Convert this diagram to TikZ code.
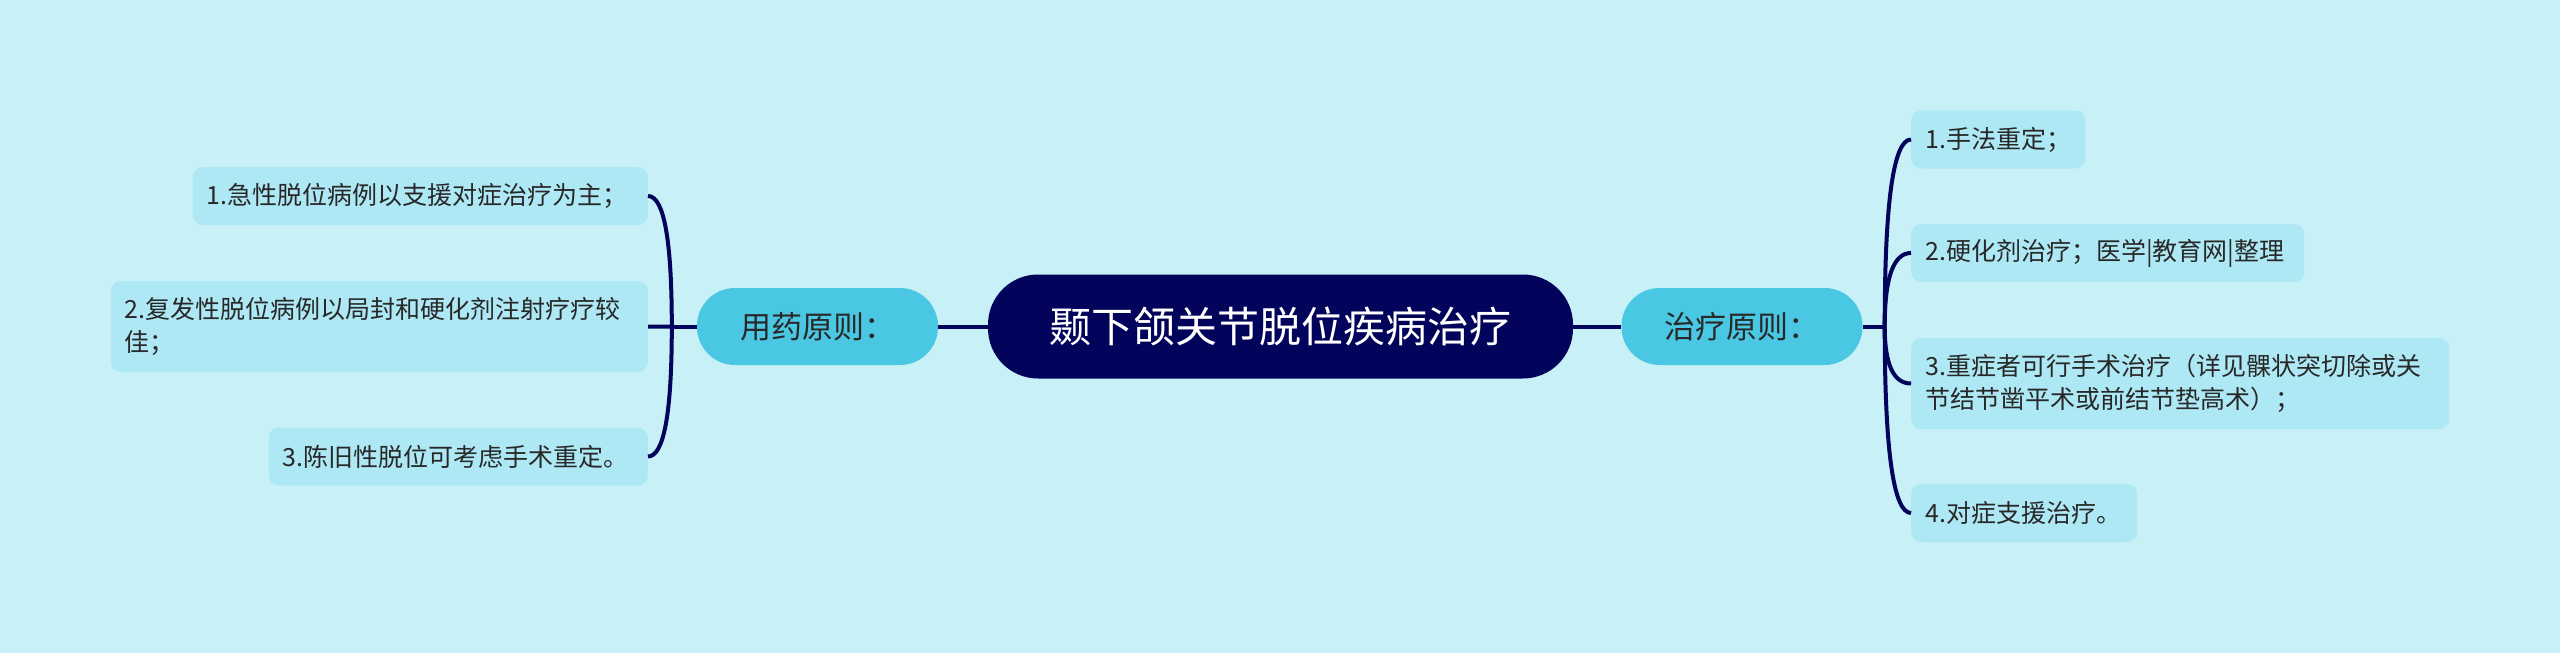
\documentclass[tikz,border=0pt]{standalone}
\usepackage{fontspec}
\setmainfont{Noto Sans CJK SC}
\usetikzlibrary{calc}
\definecolor{bgc}{RGB}{200,240,247}
\definecolor{leafc}{RGB}{173,232,244}
\definecolor{midc}{RGB}{74,200,227}
\definecolor{navyc}{RGB}{2,3,90}
\definecolor{txtc}{RGB}{40,40,40}
\begin{document}
\begin{tikzpicture}[x=1pt,y=-1pt,
  leafbox/.style={fill=leafc, rounded corners=10pt, inner xsep=14pt, inner ysep=0pt, align=left, text=txtc, font=\fontsize{25}{33}\selectfont, minimum height=58pt},
  midbox/.style={fill=midc, rounded corners=38pt, minimum width=241pt, minimum height=77pt, inner sep=0pt, text=txtc, font=\fontsize{31}{36}\selectfont},
  rootbox/.style={fill=navyc, rounded corners=50pt, minimum width=585pt, minimum height=104pt, inner sep=0pt, text=white, font=\fontsize{42}{48}\selectfont},
  conn/.style={draw=navyc, line width=4pt}]
\useasboundingbox (0,0) rectangle (2560,653);
\fill[bgc] (0,0) rectangle (2560,653);

\node[rootbox] (root) at (1280.5,326.5) {颞下颌关节脱位疾病治疗};
\node[midbox] (m1) at (817.5,326.5) {用药原则：};
\node[midbox] (m2) at (1742,326.5) {治疗原则：};

\node[leafbox, anchor=east, text width=427pt] (l1) at (648,196) {1.急性脱位病例以支援对症治疗为主；};
\node[leafbox, anchor=east, text width=509pt, minimum height=91pt] (l2) at (648,326.5) {2.复发性脱位病例以局封和硬化剂注射疗疗较\\佳；};
\node[leafbox, anchor=east, text width=351pt] (l3) at (648,456.5) {3.陈旧性脱位可考虑手术重定。};

\node[leafbox, anchor=west, text width=146pt] (r1) at (1911,139.5) {1.手法重定；};
\node[leafbox, anchor=west, text width=365pt] (r2) at (1911,253) {2.硬化剂治疗；医学|教育网|整理};
\node[leafbox, anchor=west, text width=510pt, minimum height=91pt] (r3) at (1911,383.5) {3.重症者可行手术治疗（详见髁状突切除或关\\节结节凿平术或前结节垫高术）；};
\node[leafbox, anchor=west, text width=198pt] (r4) at (1911,513) {4.对症支援治疗。};

\draw[conn] (root.west) -- (m1.east);
\draw[conn] (root.east) -- (m2.west);

\coordinate (jl) at ($(m1.west)+(-25,0)$);
\coordinate (jr) at ($(m2.east)+(22,0)$);
\draw[conn] (m1.west) -- (jl);
\draw[conn] (m2.east) -- (jr);

\foreach \c in {l1,l2,l3} {
  \coordinate (k) at (jl|-\c.east);
  \draw[conn] (jl) .. controls ($(jl)!0.667!(k)$) and ($(\c.east)!0.667!(k)$) .. (\c.east);
}
\foreach \c in {r1,r2,r3,r4} {
  \coordinate (k) at (jr|-\c.west);
  \draw[conn] (jr) .. controls ($(jr)!0.667!(k)$) and ($(\c.west)!0.667!(k)$) .. (\c.west);
}
\end{tikzpicture}
\end{document}
